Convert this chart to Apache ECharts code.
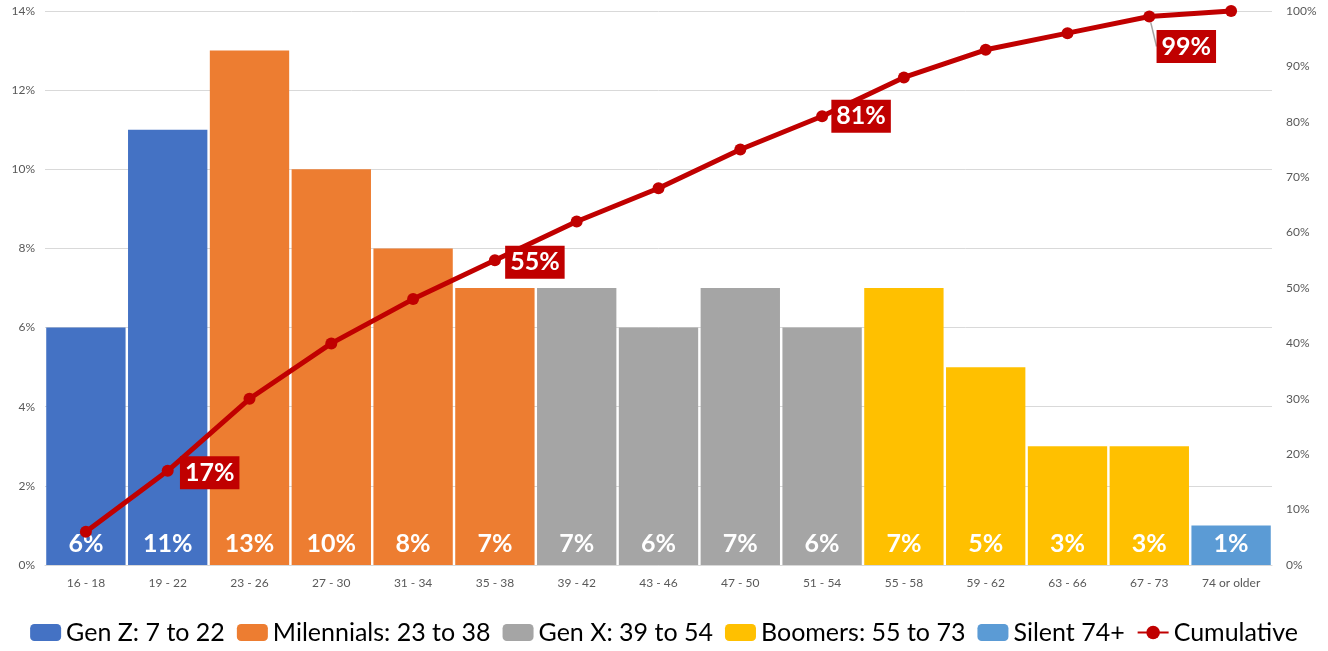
<!DOCTYPE html>
<html>
<head>
<meta charset="utf-8">
<script src="https://cdn.jsdelivr.net/npm/echarts@6/dist/echarts.min.js"></script>
<style>
  html, body { margin: 0; padding: 0; background: #fff; }
  #chart { width: 1328px; height: 651px; }
</style>
</head>
<body>
<div id="chart"></div>
<script>
const ageGroups = ['16 - 18', '19 - 22', '23 - 26', '27 - 30', '31 - 34', '35 - 38', '39 - 42', '43 - 46',
    '47 - 50', '51 - 54', '55 - 58', '59 - 62', '63 - 66', '67 - 73', '74 or older'];
const shares = [6, 11, 13, 10, 8, 7, 7, 6, 7, 6, 7, 5, 3, 3, 1];
const generation = [0, 0, 1, 1, 1, 1, 2, 2, 2, 2, 3, 3, 3, 3, 4];
const genNames = ['Gen Z: 7 to 22', 'Milennials: 23 to 38', 'Gen X: 39 to 54', 'Boomers: 55 to 73', 'Silent 74+'];
const cumulative = [6, 17, 30, 40, 48, 55, 62, 68, 75, 81, 88, 93, 96, 99, 100];
const labelledPoints = [1, 5, 9, 13];
const leftTicks = [0, 2, 4, 6, 8, 10, 12, 14];
const rightTicks = [0, 10, 20, 30, 40, 50, 60, 70, 80, 90, 100];

const genColors = ['#4472C4', '#ED7D31', '#A5A5A5', '#FFC000', '#5B9BD5'];
const lineColor = '#C00000';
const font = 'Lato, "Open Sans", sans-serif';

// one bar series per generation, stacked so every bar sits on its own category
const barSeries = genNames.map((name, g) => ({
    name: name,
    type: 'bar',
    stack: 'gen',
    barCategoryGap: '3%',
    itemStyle: { color: genColors[g] },
    label: {
        show: true,
        position: 'insideBottom',
        distance: 9,
        color: '#fff',
        fontWeight: 'bold',
        fontSize: 25,
        fontFamily: font,
        formatter: p => p.value + '%'
    },
    data: shares.map((v, i) => generation[i] === g ? v : '-')
}));

// where the callout boxes sit relative to their points
const calloutShift = { 1: [42, 2], 5: [40, 2], 9: [39, 0], 13: [37, 30] };

const lineData = cumulative.map((v, i) => {
    if (labelledPoints.indexOf(i) < 0) return v;
    return {
        value: v,
        label: {
            show: true,
            position: 'inside',
            formatter: '{c}%',
            color: '#fff',
            backgroundColor: lineColor,
            fontWeight: 'bold',
            fontSize: 25,
            fontFamily: font,
            padding: [5, 5, 3, 5]
        },
        labelLine: { show: i === 13, lineStyle: { color: '#A5A5A5', width: 1.5 } }
    };
});

const chart = echarts.init(document.getElementById('chart'));
chart.setOption({
    animation: false,
    grid: { left: 45, right: 56, top: 11, bottom: 86 },
    legend: {
        bottom: 1,
        left: 'center',
        itemWidth: 31,
        itemHeight: 17,
        itemGap: 12,
        textStyle: { fontSize: 25, color: '#000', fontFamily: font },
        data: genNames.concat(['Cumulative'])
    },
    xAxis: {
        type: 'category',
        data: ageGroups,
        axisLine: { lineStyle: { color: '#D9D9D9', width: 1 } },
        axisTick: { show: false },
        axisLabel: { color: '#595959', fontSize: 12, fontFamily: font, margin: 12 }
    },
    yAxis: [
        {
            type: 'value',
            min: leftTicks[0],
            max: leftTicks[leftTicks.length - 1],
            interval: leftTicks[1] - leftTicks[0],
            axisLabel: { formatter: '{value}%', color: '#595959', fontSize: 12, fontFamily: font, margin: 10 },
            splitLine: { lineStyle: { color: '#D9D9D9' } }
        },
        {
            type: 'value',
            min: rightTicks[0],
            max: rightTicks[rightTicks.length - 1],
            interval: rightTicks[1] - rightTicks[0],
            axisLabel: { formatter: '{value}%', color: '#595959', fontSize: 12, fontFamily: font, margin: 14 },
            splitLine: { show: false }
        }
    ],
    series: barSeries.concat([{
        name: 'Cumulative',
        type: 'line',
        yAxisIndex: 1,
        z: 5,
        symbol: 'circle',
        symbolSize: 12,
        lineStyle: { color: lineColor, width: 5 },
        itemStyle: { color: lineColor },
        labelLayout: p => {
            const s = calloutShift[p.dataIndex];
            return s ? { dx: s[0], dy: s[1] } : {};
        },
        data: lineData
    }])
});
</script>
</body>
</html>
